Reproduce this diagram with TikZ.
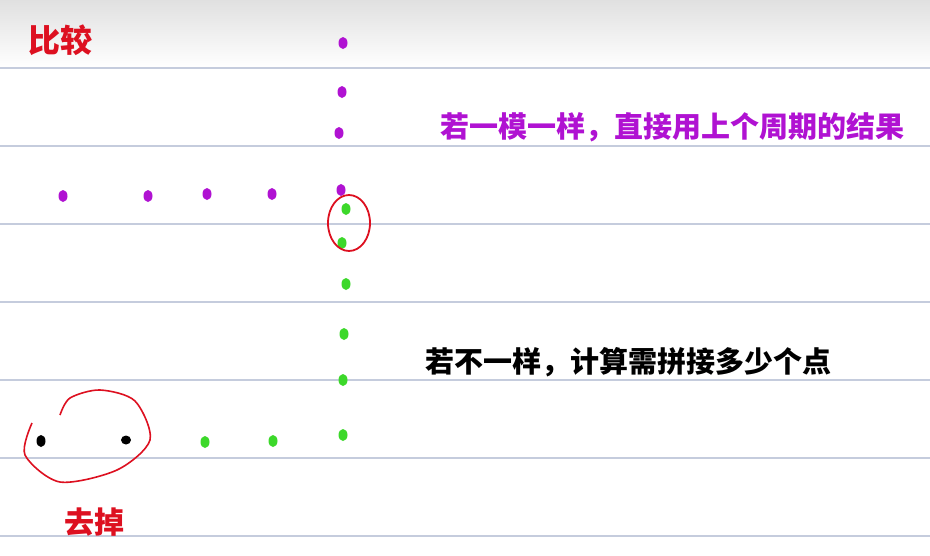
\documentclass[tikz,border=0pt]{standalone}
\usepackage{fontspec}
\newfontfamily\cjk{Noto Sans CJK SC}
\definecolor{rulecol}{HTML}{C5CCDD}
\definecolor{purplepen}{HTML}{B012D2}
\definecolor{greenpen}{HTML}{3CD82A}
\definecolor{redpen}{HTML}{DD1020}
\tikzset{
  note/.style={anchor=west, inner sep=0pt, font=\cjk\bfseries\fontsize{29}{29}\selectfont},
  pdot/.style={fill=purplepen},
  gdot/.style={fill=greenpen},
  kdot/.style={fill=black}
}
\begin{document}
\begin{tikzpicture}[x=1pt,y=-1pt]
  \useasboundingbox (0,0) rectangle (930,555);
  \fill[white] (0,0) rectangle (930,555);
  \shade[top color=black!12, bottom color=white] (0,0) rectangle (930,68);
  \foreach \y in {68,146,224,302,380,458,536}
    \draw[rulecol, line width=1.3pt] (0,\y) -- (930,\y);
  % purple dots
  \foreach \x/\y in {343/43, 342/92, 339/133, 341/190, 63/196, 148/196, 207/194, 272/194}
    \path[pdot] (\x,\y) ellipse (4.5pt and 6pt);
  % green dots
  \foreach \x/\y in {346/209, 342/243, 346/284, 344/334, 343/380, 205/442, 273/441, 343/435}
    \path[gdot] (\x,\y) ellipse (4.5pt and 6pt);
  \path[kdot] (41,441) ellipse (4.5pt and 6pt);
  \path[kdot] (126,440) ellipse (5pt and 4.5pt);
  \draw[redpen, line width=1.8pt] (349,223) ellipse (21pt and 28pt);
  \draw[redpen, line width=1.6pt, smooth] plot coordinates {(32,423) (25,455) (60,482) (117,470) (150,440) (135,401) (100,390) (70,398) (60,415)};
  \node[note, text=redpen, font=\cjk\bfseries\fontsize{32}{32}\selectfont] (compare) at (28,40) {比较};
  \node[note, text=purplepen] (same) at (440,127) {若一模一样，直接用上个周期的结果};
  \node[note] (differ) at (425,362) {若不一样，计算需拼接多少个点};
  \node[note, text=redpen, font=\cjk\bfseries\fontsize{30}{30}\selectfont] (drop) at (64,522) {去掉};
\end{tikzpicture}
\end{document}
